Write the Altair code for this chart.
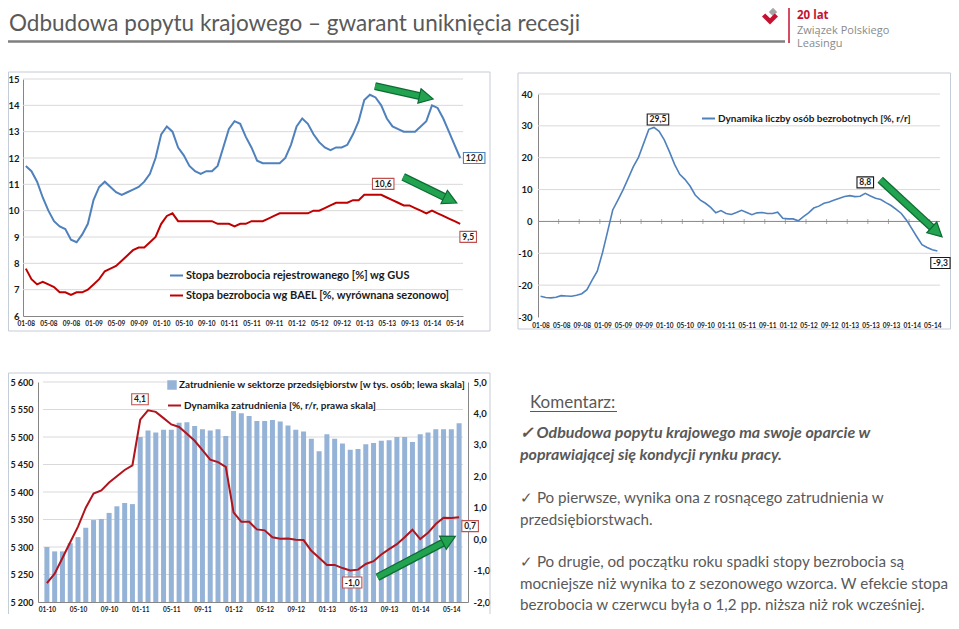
import math
import altair as alt
import pandas as pd

W, H = 943, 606
FONT = "Lato"
TXT = "#595959"
INK = "#1a1a1a"
BLUE = "#4f81bd"
RED = "#c00000"
BARC = "#95b3d7"
GRID = "#d9d9d9"
AXISC = "#868686"
FRAME = "#c5cdd8"
GREEN = "#22a350"
GREEN_D = "#0f6b34"
BOX_BLUE = "#4f81bd"
BOX_RED = "#c0504d"
BOX_BLACK = "#1a1a1a"

# ---------------- data ----------------
ab_tick_labels = ["01-08", "05-08", "09-08", "01-09", "05-09", "09-09", "01-10", "05-10",
                  "09-10", "01-11", "05-11", "09-11", "01-12", "05-12", "09-12", "01-13",
                  "05-13", "09-13", "01-14", "05-14"]
gus_rate = [
    11.7, 11.5, 11.1, 10.5, 10.0, 9.6, 9.4, 9.3, 8.9, 8.8, 9.1, 9.5,
    10.4, 10.9, 11.1, 10.9, 10.7, 10.6, 10.7, 10.8, 10.9, 11.1, 11.4, 12.0,
    12.9, 13.2, 13.0, 12.4, 12.1, 11.7, 11.5, 11.4, 11.5, 11.5, 11.7, 12.4,
    13.1, 13.4, 13.3, 12.8, 12.4, 11.9, 11.8, 11.8, 11.8, 11.8, 12.0, 12.5,
    13.2, 13.5, 13.3, 12.9, 12.6, 12.4, 12.3, 12.4, 12.4, 12.5, 12.9, 13.4,
    14.2, 14.4, 14.3, 14.0, 13.5, 13.2, 13.1, 13.0, 13.0, 13.0, 13.2, 13.4,
    14.0, 13.9, 13.5, 13.0, 12.5, 12.0,
]
bael_rate = [
    7.8, 7.4, 7.2, 7.3, 7.2, 7.1, 6.9, 6.9, 6.8, 6.9, 6.9, 7.0,
    7.2, 7.4, 7.7, 7.8, 7.9, 8.1, 8.3, 8.5, 8.6, 8.6, 8.8, 9.0,
    9.5, 9.8, 9.9, 9.6, 9.6, 9.6, 9.6, 9.6, 9.6, 9.6, 9.5, 9.5,
    9.5, 9.4, 9.5, 9.5, 9.6, 9.6, 9.6, 9.7, 9.8, 9.9, 9.9, 9.9,
    9.9, 9.9, 9.9, 10.0, 10.0, 10.1, 10.2, 10.3, 10.3, 10.3, 10.4, 10.4,
    10.6, 10.6, 10.6, 10.6, 10.5, 10.4, 10.3, 10.2, 10.2, 10.1, 10.0, 9.9,
    10.0, 9.9, 9.8, 9.7, 9.6, 9.5,
]
unemployed_yoy = [
    -23.5, -23.9, -24.0, -23.8, -23.3, -23.4, -23.5, -23.2, -22.7, -21.4, -18.4, -15.6,
    -9.9, -3.2, 3.6, 6.7, 9.9, 13.5, 17.2, 20.1, 24.5, 28.9, 29.5, 28.3,
    25.6, 21.9, 17.9, 14.8, 13.2, 11.1, 8.3, 6.7, 5.7, 4.4, 2.7, 3.4,
    2.5, 2.2, 2.8, 3.5, 2.8, 2.1, 2.7, 2.8, 2.5, 2.5, 2.9, 1.0,
    0.8, 0.8, 0.2, 1.5, 2.7, 4.2, 4.8, 5.7, 6.1, 6.7, 7.3, 7.8,
    8.1, 7.8, 7.9, 8.8, 8.0, 7.3, 6.9, 5.9, 5.0, 3.8, 2.5, 0.4,
    -2.2, -4.8, -7.3, -8.2, -8.9, -9.3,
]
c_tick_labels = ["01-10", "05-10", "09-10", "01-11", "05-11", "09-11", "01-12", "05-12",
                 "09-12", "01-13", "05-13", "09-13", "01-14", "05-14"]
employment = [
    5300, 5292, 5292, 5307, 5318, 5335, 5349, 5351, 5362, 5374, 5380, 5378,
    5500, 5512, 5508, 5513, 5513, 5526, 5527, 5520, 5514, 5512, 5514, 5502,
    5551, 5543, 5538, 5529, 5529, 5531, 5528, 5521, 5513, 5510, 5497, 5474,
    5505, 5497, 5488, 5477, 5478, 5487, 5489, 5493, 5494, 5500, 5500, 5491,
    5505, 5508, 5514, 5514, 5514, 5525,
]
employment_yoy = [
    -1.4, -1.1, -0.6, -0.1, 0.4, 1.0, 1.45, 1.55, 1.8, 2.0, 2.2, 2.35,
    3.8, 4.1, 4.05, 3.85, 3.65, 3.57, 3.35, 3.13, 2.83, 2.53, 2.45, 2.3,
    0.85, 0.55, 0.55, 0.31, 0.28, 0.06, 0.01, 0.02, -0.02, -0.03, -0.37, -0.59,
    -0.82, -0.82, -0.92, -1.0, -0.97, -0.79, -0.7, -0.49, -0.32, -0.16, 0.06, 0.3,
    0.0, 0.2, 0.48, 0.68, 0.67, 0.7,
]
a_y_ticks = [6, 7, 8, 9, 10, 11, 12, 13, 14, 15]
b_y_ticks = [-30, -20, -10, 0, 10, 20, 30, 40]
c_left_ticks = [5200, 5250, 5300, 5350, 5400, 5450, 5500, 5550, 5600]
c_right_ticks = [-2, -1, 0, 1, 2, 3, 4, 5]

SER_GUS = "Stopa bezrobocia rejestrowanego [%] wg GUS"
SER_BAEL = "Stopa bezrobocia wg BAEL [%, wyrównana sezonowo]"
SER_DYN = "Dynamika liczby osób bezrobotnych [%, r/r]"
SER_EMP = "Zatrudnienie w sektorze przedsiębiorstw [w tys. osób; lewa skala]"
SER_EMPYOY = "Dynamika zatrudnienia [%, r/r, prawa skala]"

TITLE = "Odbudowa popytu krajowego \u2013 gwarant uniknięcia recesji"
COMMENT_HEAD = "Komentarz:"
bullet1 = ["\u2713 Odbudowa popytu krajowego ma swoje oparcie w",
           "poprawiającej się kondycji rynku pracy."]
bullet2 = ["\u2713 Po pierwsze, wynika ona z rosnącego zatrudnienia w",
           "przedsiębiorstwach."]
bullet3 = ["\u2713 Po drugie, od początku roku spadki stopy bezrobocia są",
           "mocniejsze niż wynika to z sezonowego wzorca. W efekcie stopa",
           "bezrobocia w czerwcu była o 1,2 pp. niższa niż rok wcześniej."]

# ---------------- tables ----------------
n_ab = len(gus_rate)
n_c = len(employment)
df_a = pd.DataFrame({"i": list(range(n_ab)) * 2, "v": gus_rate + bael_rate,
                     "s": [SER_GUS] * n_ab + [SER_BAEL] * n_ab})
df_b = pd.DataFrame({"i": list(range(n_ab)), "v": unemployed_yoy, "s": SER_DYN})
df_c = pd.DataFrame({"i": list(range(n_c)), "emp": employment, "yoy": employment_yoy,
                     "s": SER_EMP, "s2": SER_EMPYOY})
one = pd.DataFrame({"k": [0]})

# ---------------- geometry (chart pixel space) ----------------
GA = {"xd": [-0.5, n_ab - 0.5], "xr": [15, 455], "yd": [6, 15], "yr": [308, 71]}
GB = {"xd": [-0.5, n_ab - 0.5], "xr": [530, 932], "yd": [-30, 40], "yr": [309, 86]}
GC = {"xd": [-0.5, n_c - 0.5], "xr": [30, 460], "yd": [5200, 5600], "yr": [594, 374]}
GC2 = {"xd": GC["xd"], "xr": GC["xr"], "yd": [-2, 5], "yr": GC["yr"]}


def to_px(g, i, v):
    (d0, d1), (r0, r1) = g["xd"], g["xr"]
    (e0, e1), (s0, s1) = g["yd"], g["yr"]
    return r0 + (i - d0) / (d1 - d0) * (r1 - r0), s0 + (v - e0) / (e1 - e0) * (s1 - s0)


def to_data(g, x, y):
    (d0, d1), (r0, r1) = g["xd"], g["xr"]
    (e0, e1), (s0, s1) = g["yd"], g["yr"]
    return d0 + (x - r0) / (r1 - r0) * (d1 - d0), e0 + (y - s0) / (s1 - s0) * (e1 - e0)


def sc(g):
    return (alt.Scale(domain=g["xd"], range=g["xr"], nice=False, zero=False),
            alt.Scale(domain=g["yd"], range=g["yr"], nice=False, zero=False))


def label_expr(labels):
    arr = "[" + ",".join("'" + s + "'" for s in labels) + "]"
    return arr + "[round(datum.value / 4)]"


def dec_comma(v):
    return ("%.1f" % v).replace(".", ",")


def x_axis(labels, offset, size=6.5, domain=True, pad=4):
    return alt.Axis(orient="bottom", offset=offset, values=[4 * k for k in range(len(labels))],
                    labelExpr=label_expr(labels), grid=False, ticks=False, tickSize=0,
                    domain=domain, domainColor=AXISC, domainWidth=1,
                    labelFont=FONT, labelFontSize=size, labelFontWeight="bold", labelColor=INK,
                    labelPadding=pad, labelAngle=0, labelFlush=False, labelOverlap=False,
                    title=None)


def y_axis(values, orient, offset, expr, size=10, pad=5, domain=True):
    return alt.Axis(orient=orient, offset=offset, values=values, labelExpr=expr, grid=False,
                    ticks=False, tickSize=0, domain=domain, domainColor=AXISC, domainWidth=1,
                    labelFont=FONT, labelFontSize=size, labelFontWeight="bold", labelColor=INK,
                    labelPadding=pad, labelFlush=False, labelOverlap=False, title=None)


def legend(x, y, size, symbol="stroke", fill=None, row_pad=8):
    kw = dict(orient="none", legendX=x, legendY=y, title=None, padding=0,
              symbolType=symbol, labelFont=FONT, labelFontSize=size, labelFontWeight="bold",
              labelColor=INK, labelOffset=2, labelLimit=600, rowPadding=row_pad)
    if symbol == "stroke":
        kw.update(symbolSize=169, symbolStrokeWidth=2)
    else:
        kw.update(symbolSize=90, symbolStrokeWidth=0)
    if fill:
        kw["fillColor"] = fill
    return alt.Legend(**kw)


# helper layers carry no axis spec at all; axis=None would disable the shared axis
def gridlines(g, values):
    d = pd.DataFrame({"g": values, "x0": g["xd"][0], "x1": g["xd"][1]})
    return alt.Chart(d).mark_rule(color=GRID, strokeWidth=1).encode(
        x="x0:Q", x2="x1:Q", y="g:Q")


def callout(i, v, dx, dy, border):
    text = dec_comma(v)
    fs = 8.5
    w = sum(0.58 * fs if c.isdigit() else 0.32 * fs for c in text) + 4
    h = 11.0
    u = h / 2
    hw = w / 2 / u
    path = f"M{-hw:.3f},-1L{hw:.3f},-1L{hw:.3f},1L{-hw:.3f},1Z"
    d = pd.DataFrame({"ci": [i], "cv": [v], "ct": [text]})
    base = alt.Chart(d).encode(x="ci:Q", y="cv:Q")
    box = base.mark_point(shape=path, size=h * h, filled=True, fill="white", stroke=border,
                          strokeWidth=1.1, opacity=1, xOffset=dx, yOffset=dy)
    txt = base.mark_text(font=FONT, fontSize=fs, fontWeight="bold", color=INK, dx=dx, dy=dy,
                         align="center", baseline="middle").encode(text="ct:N")
    return [box, txt]


HEAD = "M-1,-1.05L1,0L-1,1.05Z"


def arrow(g, start, tip):
    xs, ys = to_px(g, *start)
    xt, yt = to_px(g, *tip)
    L = math.hypot(xt - xs, yt - ys)
    ux, uy = (xt - xs) / L, (yt - ys) / L
    ang = math.degrees(math.atan2(yt - ys, xt - xs)) % 360
    se = to_data(g, xt - ux * 10, yt - uy * 10)
    hc = to_data(g, xt - ux * 7, yt - uy * 7)
    d = pd.DataFrame({"x0": [start[0]], "y0": [start[1]], "x1": [se[0]], "y1": [se[1]],
                      "hx": [hc[0]], "hy": [hc[1]]})
    base = alt.Chart(d)
    enc = dict(x="x0:Q", y="y0:Q", x2="x1:Q", y2="y1:Q")
    outer = base.mark_rule(color=GREEN_D, strokeWidth=8, strokeCap="butt").encode(**enc)
    inner = base.mark_rule(color=GREEN, strokeWidth=5.5, strokeCap="butt").encode(**enc)
    head = base.mark_point(shape=HEAD, size=196, filled=True, fill=GREEN, stroke=GREEN_D,
                           strokeWidth=1.2, opacity=1, angle=ang).encode(x="hx:Q", y="hy:Q")
    return [outer, inner, head]


def text_at(x, y, text, **kw):
    return alt.Chart(one).mark_text(**kw).encode(x=alt.value(x), y=alt.value(y),
                                                 text=alt.value(text))


def rule_at(x, x2, y, y2, **kw):
    return alt.Chart(one).mark_rule(**kw).encode(x=alt.value(x), x2=alt.value(x2),
                                                 y=alt.value(y), y2=alt.value(y2))


# ---------------- chart A ----------------
xa, ya = sc(GA)
lines_a = alt.Chart(df_a).mark_line(strokeWidth=2).encode(
    x=alt.X("i:Q", scale=xa, axis=x_axis(ab_tick_labels, GA["yr"][0] - H)),
    y=alt.Y("v:Q", scale=ya, axis=y_axis(a_y_ticks, "left", -GA["xr"][0], "toString(datum.value)",
                                         size=9.5, pad=4)),
    color=alt.Color("s:N", scale=alt.Scale(domain=[SER_GUS, SER_BAEL], range=[BLUE, RED]),
                    legend=legend(161, 260, 11, row_pad=7)),
)
layer_a = alt.layer(
    gridlines(GA, a_y_ticks[1:]),
    lines_a,
    *arrow(GA, (61.9, 14.73), (72.2, 14.24)),
    *arrow(GA, (66.9, 11.28), (76.4, 10.29)),
    *callout(77, gus_rate[77], 14, 0, BOX_BLUE),
    *callout(63, bael_rate[63], 2, -11, BOX_RED),
    *callout(77, bael_rate[77], 8, 13, BOX_RED),
)

# ---------------- chart B ----------------
xb, yb = sc(GB)
zero_b = alt.Chart(pd.DataFrame({"z": [0], "x0": GB["xd"][0], "x1": GB["xd"][1]})).mark_rule(
    color=AXISC, strokeWidth=1).encode(x="x0:Q", x2="x1:Q", y="z:Q")
ticks_b = alt.Chart(pd.DataFrame({"t": [3.5 + 4 * k for k in range(19)], "z": 0})).mark_tick(
    orient="vertical", size=5, thickness=1, color=AXISC).encode(x="t:Q", y="z:Q")
line_b = alt.Chart(df_b).mark_line(strokeWidth=1.6).encode(
    x=alt.X("i:Q", scale=xb, axis=x_axis(ab_tick_labels, GB["yr"][0] - H, domain=False, pad=5)),
    y=alt.Y("v:Q", scale=yb, axis=y_axis(b_y_ticks, "left", -GB["xr"][0], "toString(datum.value)",
                                         size=9.5, pad=6)),
    color=alt.Color("s:N", scale=alt.Scale(domain=[SER_DYN], range=[BLUE]),
                    legend=legend(693, 103, 10)),
)
layer_b = alt.layer(
    gridlines(GB, [v for v in b_y_ticks if v not in (0, -30)]),
    zero_b, ticks_b, line_b,
    *arrow(GB, (65.9, 13.07), (77.9, -4.85)),
    *callout(22, unemployed_yoy[22], 4, -8, BOX_BLACK),
    *callout(63, unemployed_yoy[63], 0, -11, BOX_BLACK),
    *callout(77, unemployed_yoy[77], 3, 12, BOX_BLACK),
)

# ---------------- chart C ----------------
xc, yc = sc(GC)
_, yc2 = sc(GC2)
bars_c = alt.Chart(df_c).mark_bar(size=5).encode(
    x=alt.X("i:Q", scale=xc, axis=x_axis(c_tick_labels, GC["yr"][0] - H)),
    y=alt.Y("emp:Q", scale=yc,
            axis=y_axis(c_left_ticks, "left", -GC["xr"][0],
                        "replace(format(datum.value, ','), ',', ' ')", size=9, pad=5)),
    y2=alt.datum(GC["yd"][0]),
    fill=alt.Fill("s:N", scale=alt.Scale(domain=[SER_EMP], range=[BARC]),
                  legend=legend(159, 372, 9.9, symbol="square", fill="white")),
)
left_c = alt.layer(gridlines(GC, c_left_ticks[1:]), bars_c)
line_c = alt.Chart(df_c).mark_line(strokeWidth=2).encode(
    x="i:Q",
    y=alt.Y("yoy:Q", scale=yc2,
            axis=y_axis(c_right_ticks, "right", GC["xr"][1] - W,
                        "(datum.value < 0 ? '-' : '') + replace(format(abs(datum.value), '.1f'), '.', ',')",
                        size=9.5, pad=5)),
    stroke=alt.Stroke("s2:N", scale=alt.Scale(domain=[SER_EMPYOY], range=["#b0141c"]),
                      legend=legend(159, 390, 10, fill="white")),
)
right_c = alt.layer(
    line_c,
    *arrow(GC2, (42.5, -1.21), (52.5, 0.09)),
    *callout(13, employment_yoy[13], -8, -11, BOX_RED),
    *callout(39, employment_yoy[39], 2, 12, BOX_RED),
    *callout(53, employment_yoy[53], 11, 9, BOX_RED),
)
layer_c = alt.layer(left_c, right_c).resolve_scale(y="independent")

# ---------------- decorations / text ----------------
frames = [
    alt.Chart(one).mark_rect(fillOpacity=0, stroke=FRAME, strokeWidth=1).encode(
        x=alt.value(0.5), x2=alt.value(482), y=alt.value(64), y2=alt.value(323)),
    alt.Chart(one).mark_rect(fillOpacity=0, stroke=FRAME, strokeWidth=1).encode(
        x=alt.value(510), x2=alt.value(942.5), y=alt.value(65), y2=alt.value(321)),
    alt.Chart(one).mark_rect(fillOpacity=0, stroke=FRAME, strokeWidth=1).encode(
        x=alt.value(0.5), x2=alt.value(482), y=alt.value(365), y2=alt.value(H + 5)),
]
header = [
    text_at(1, 23, TITLE, font=FONT, fontSize=22.5, color=TXT, align="left", baseline="alphabetic"),
    rule_at(0, 777, 33.5, 33.5, color="#7f7f7f", strokeWidth=2.5),
    rule_at(781, 781, -2, 35, color="#c41230", strokeWidth=1.5),
    text_at(789, 11, "20 lat", font="Open Sans", fontSize=11.5, fontWeight="bold",
            color="#c41230", align="left", baseline="alphabetic"),
    text_at(789, 25.5, "Związek Polskiego", font="Open Sans", fontSize=11, color="#8a8a8a",
            align="left", baseline="alphabetic"),
    text_at(789, 39, "Leasingu", font="Open Sans", fontSize=11, color="#8a8a8a",
            align="left", baseline="alphabetic"),
    alt.Chart(one).mark_point(shape="diamond", size=70, filled=True, color="#a6a6a6",
                              opacity=1).encode(x=alt.value(765), y=alt.value(4)),
    alt.Chart(one).mark_point(shape="M-1,-0.3L0,0.7L1,-0.3L0.6,-0.7L0,-0.1L-0.6,-0.7Z",
                              size=256, filled=True, color="#c41230", opacity=1).encode(
        x=alt.value(762), y=alt.value(11)),
]
comments = [
    text_at(522, 400, COMMENT_HEAD, font=FONT, fontSize=17, color=TXT, align="left",
            baseline="alphabetic"),
    rule_at(522, 609, 403.5, 403.5, color=TXT, strokeWidth=1),
    text_at(512, 430, bullet1, font=FONT, fontSize=16, fontWeight="bold", fontStyle="italic",
            color=TXT, align="left", baseline="alphabetic", lineHeight=22),
    text_at(512, 495, bullet2, font=FONT, fontSize=15.2, color=TXT, align="left",
            baseline="alphabetic", lineHeight=22),
    text_at(512, 559, bullet3, font=FONT, fontSize=15.2, color=TXT, align="left",
            baseline="alphabetic", lineHeight=21.5),
]

chart = alt.layer(
    *frames, *header, layer_a, layer_b, layer_c, *comments
).resolve_scale(
    x="independent", y="independent", color="independent"
).properties(
    width=W, height=H, autosize=alt.AutoSizeParams(type="none"), padding=0
).configure_view(stroke=None)

chart.save("out.html", embed_options={"renderer": "svg", "actions": False})
